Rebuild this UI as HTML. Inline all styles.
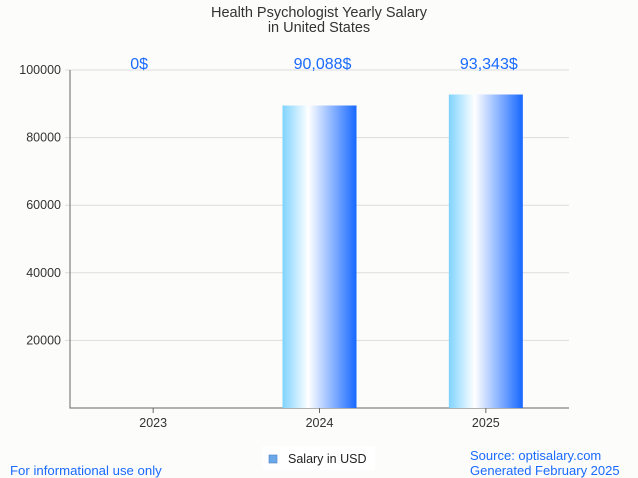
<!DOCTYPE html>
<html><head><meta charset="utf-8"><style>
body{margin:0;background:#fcfcfa;font-family:"Liberation Sans",sans-serif}
svg{display:block}
</style></head><body>
<svg width="638" height="478">
<defs><linearGradient id="g" x1="0" x2="1" y1="0" y2="0">
<stop offset="0" stop-color="#7fd3ff"/><stop offset="0.35" stop-color="#ffffff"/><stop offset="1" stop-color="#1668ff"/></linearGradient></defs>
<rect width="638" height="478" fill="#fcfcfa"/>
<text x="319" y="17" text-anchor="middle" font-size="14.5" fill="#333">Health Psychologist Yearly Salary</text>
<text x="319" y="32" text-anchor="middle" font-size="14.5" fill="#333">in United States</text>
<g id="grid"></g><g id="bars"></g>
<rect x="262" y="446" width="113" height="24" fill="#fff"/>
<rect x="269" y="455" width="8" height="8" fill="#6aa8ea" stroke="#4a7fc0" stroke-width="0.6"/>
<text x="288" y="463" font-size="12.5" fill="#222">Salary in USD</text>
<text x="10" y="475" font-size="13.2" fill="#1a6aff">For informational use only</text>
<text x="470" y="460" font-size="13" fill="#1a6aff">Source: optisalary.com</text>
<text x="470" y="475" font-size="13" fill="#1a6aff">Generated February 2025</text>
</svg>
<script>
const categories=["2023","2024","2025"];
const values=[0,90088,93343];
const valueLabels=["0$","90,088$","93,343$"];
const yTicks=[20000,40000,60000,80000,100000];
const L=70,R=569,T=70,B=408,max=100000;
const y=v=>B-(v/max)*(B-T);
const bw=(R-L)/categories.length;
const x=i=>L+bw*(i+0.5);
const ns="http://www.w3.org/2000/svg";
const grid=document.getElementById('grid'),bars=document.getElementById('bars');
function mk(tag,a,p,t){const e=document.createElementNS(ns,tag);for(const k in a)e.setAttribute(k,a[k]);if(t!=null)e.textContent=t;p.appendChild(e);return e;}
yTicks.forEach(v=>{
 const l=mk('line',{x1:L-5,x2:R,y1:y(v),y2:y(v),stroke:'#ddd'},grid);
 
 
 const t=mk('text',{x:L-9,y:y(v)+4,'text-anchor':'end','font-size':12.5,fill:'#333'},grid,String(v));
 
 
});
const ax=mk('path',{d:`M${L} ${T}V${B}H${R}`,stroke:'#666',fill:'none'},grid);


categories.forEach((c,i)=>{
 const tk=mk('line',{x1:x(i),x2:x(i),y1:B,y2:B+5,stroke:'#666'},grid);
 
 
 const t=mk('text',{x:x(i),y:B+19,'text-anchor':'middle','font-size':12.5,fill:'#333'},grid,c);
 
 
 const r=mk('rect',{x:x(i)-37,y:y(values[i])+2,width:74,height:Math.max(0,B-y(values[i])-2),fill:'url(#g)'},bars);
 
 
 const vl=mk('text',{x:x(i)+(i===0?-14:3),y:69,'text-anchor':'middle','font-size':16,fill:'#1a6aff'},bars,valueLabels[i]);
 
 
});
</script>
</body></html>
